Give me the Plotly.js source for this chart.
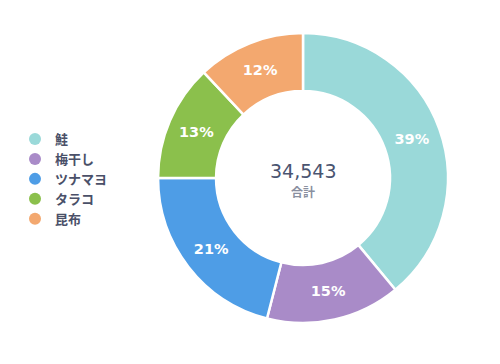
<!DOCTYPE html>
<html>
<head>
<meta charset="utf-8">
<script src="https://cdn.plot.ly/plotly-3.0.1.min.js"></script>
<style>html,body{margin:0;padding:0;background:#fff;}#chart{width:500px;height:364px;}</style>
</head>
<body>
<div id="chart"></div>
<script>
const categories = ["鮭", "梅干し", "ツナマヨ", "タラコ", "昆布"];
const values = [13472, 5181, 7254, 4491, 4145];
const colors = ["#9ad9d9", "#a98bc8", "#4e9de6", "#8bc04c", "#f3a86f"];
const totalLabel = "34,543";
const totalCaption = "合計";

const font = "'DejaVu Sans', 'Noto Sans CJK JP', sans-serif";

const traces = [{
  type: "pie",
  labels: categories,
  values: values,
  sort: false,
  direction: "clockwise",
  rotation: 0,
  hole: 0.6,
  marker: {colors: colors, line: {color: "#ffffff", width: 2.5}},
  texttemplate: "%{percent:.0%}",
  textposition: "inside",
  insidetextorientation: "horizontal",
  textfont: {family: font, size: 14.5, color: "#ffffff", weight: "bold"},
  hoverinfo: "label+value+percent",
  showlegend: false,
  domain: {x: [0.316, 0.896], y: [0.1126, 0.909]}
}];
categories.forEach((c, i) => {
  traces.push({
    type: "scatter", mode: "markers", x: [null], y: [null], name: c,
    marker: {color: colors[i], size: 12, symbol: "circle"},
    showlegend: true, hoverinfo: "skip"
  });
});

const layout = {
  width: 500, height: 364,
  margin: {l: 0, r: 0, t: 0, b: 0},
  paper_bgcolor: "#ffffff", plot_bgcolor: "#ffffff",
  xaxis: {visible: false}, yaxis: {visible: false},
  showlegend: true,
  legend: {
    x: 0.03, xanchor: "left", y: 0.659, yanchor: "top",
    font: {family: "'Noto Sans CJK JP', sans-serif", size: 13, color: "#4a5068", weight: "bold"},
    itemclick: false, itemdoubleclick: false, tracegroupgap: 0
  },
  annotations: [
    {text: totalLabel, x: 0.606, y: 0.529, xref: "paper", yref: "paper", showarrow: false,
     font: {family: font, size: 19, color: "#4a5470"}},
    {text: totalCaption, x: 0.606, y: 0.475, xref: "paper", yref: "paper", showarrow: false,
     font: {family: "'Noto Sans CJK JP', sans-serif", size: 12, color: "#8a90a0", weight: "bold"}}
  ]
};
Plotly.newPlot("chart", traces, layout, {displayModeBar: false, staticPlot: true});
</script>
</body>
</html>
